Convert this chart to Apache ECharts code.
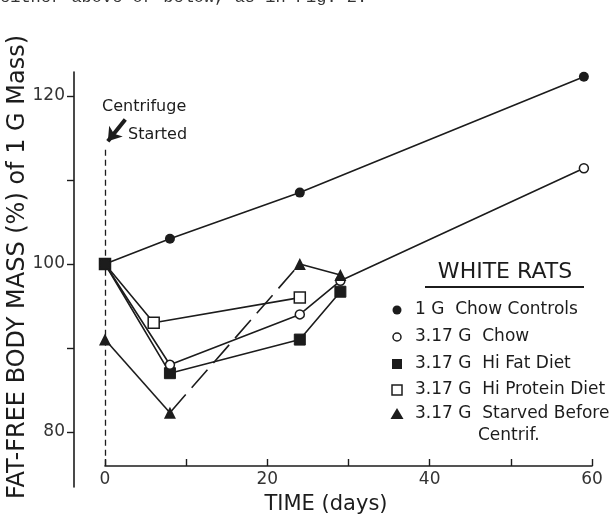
<!DOCTYPE html>
<html><head><meta charset="utf-8">
<script src="https://cdn.jsdelivr.net/npm/echarts@6/dist/echarts.min.js"></script>
<style>html,body{margin:0;padding:0;background:#fff}#c{width:610px;height:519px}</style>
</head><body><div id="c"></div>
<script>
// ---- data ----
const ctrlDays = [0, 8, 24, 59];
const ctrlVals = [100, 103, 108.5, 122.3];
const chowDays = [0, 8, 24, 29, 59];
const chowVals = [100, 88, 94, 98, 111.4];
const fatDays = [0, 8, 24, 29];
const fatVals = [100, 87, 91, 96.7];
const protDays = [0, 6, 24];
const protVals = [100, 93, 96];
const starvDays = [0, 8, 24, 29];
const starvVals = [91, 82.3, 100, 98.7];
const yTickVals = [80, 90, 100, 110, 120];
const yLabelVals = [80, 100, 120];
const xTickVals = [0, 10, 20, 30, 40, 50, 60];
const xLabelVals = [0, 20, 40, 60];
const legendNames = ['1 G  Chow Controls', '3.17 G  Chow', '3.17 G  Hi Fat Diet', '3.17 G  Hi Protein Diet', '3.17 G  Starved Before'];

const INK = '#1c1c1c';
const FONT = 'DejaVu Sans';
const pts = (d, v) => d.map((x, i) => [x, v[i]]);

const chart = echarts.init(document.getElementById('c'));
const lineW = 1.6;
function lineSeries(data, opts) {
  return Object.assign({
    type: 'line', xAxisIndex: 0, yAxisIndex: 0, data: data,
    lineStyle: { color: INK, width: lineW }, animation: false, silent: true
  }, opts);
}
const starv = pts(starvDays, starvVals);
const series = [
  lineSeries(pts(protDays, protVals), { symbol: 'rect', symbolSize: 11, itemStyle: { color: '#fff', borderColor: INK, borderWidth: 1.5 }, z: 3 }),
  lineSeries(pts(fatDays, fatVals), { symbol: 'rect', symbolSize: 11, itemStyle: { color: INK, borderColor: INK }, z: 4 }),
  lineSeries(pts(chowDays, chowVals), { symbol: 'circle', symbolSize: 9, itemStyle: { color: '#fff', borderColor: INK, borderWidth: 1.5 }, z: 5 }),
  lineSeries(starv.slice(0, 2), { symbol: 'none', z: 2 }),
  lineSeries(starv.slice(1, 3), { symbol: 'none', z: 2, lineStyle: { color: INK, width: lineW, type: [24, 9] } }),
  lineSeries(starv.slice(2, 4), { symbol: 'none', z: 2 }),
  { type: 'scatter', data: starv, symbol: 'triangle', symbolSize: 12, itemStyle: { color: INK, opacity: 1 }, z: 6, animation: false, silent: true },
  lineSeries(pts(ctrlDays, ctrlVals), { symbol: 'circle', symbolSize: 10, itemStyle: { color: INK }, z: 7,
    markLine: {
      silent: true, symbol: 'none', label: { show: false },
      lineStyle: { color: INK, type: [6, 4], width: 1.3 },
      data: [[{ coord: [0, 113.6] }, { coord: [0, 75.95] }]]
    }
  }),
  { type: 'line', data: [], z: 8, markLine: {
      silent: true, symbol: ['none', 'arrow'], symbolSize: [13, 13], label: { show: false },
      lineStyle: { color: INK, type: 'solid', width: 4 },
      data: [[{ coord: [2.5, 117.2] }, { coord: [0.35, 114.6] }]]
    } }
];

// legend graphics
const legX = 397, legText = 415, rows = [310, 337, 364, 390, 414];
const g = [];
g.push({ type: 'text', left: 0, top: -11, style: { text: 'either above or below, as in Fig. 2.', font: '17px "Liberation Mono"', fill: '#333' } });
g.push({ type: 'text', x: 18, y: 267, rotation: Math.PI / 2, style: { text: 'FAT-FREE BODY MASS (%) of 1 G Mass)', font: '24px ' + FONT, fill: INK, align: 'center', verticalAlign: 'middle' } });
g.push({ type: 'text', x: 326, y: 505, style: { text: 'TIME (days)', font: '21px ' + FONT, fill: INK, align: 'center', verticalAlign: 'middle' } });
g.push({ type: 'text', x: 102, y: 107, style: { text: 'Centrifuge', font: '16px ' + FONT, fill: INK, verticalAlign: 'middle' } });
g.push({ type: 'text', x: 128, y: 135, style: { text: 'Started', font: '16px ' + FONT, fill: INK, verticalAlign: 'middle' } });
g.push({ type: 'text', x: 505, y: 272, style: { text: 'WHITE RATS', font: '22px ' + FONT, fill: INK, align: 'center', verticalAlign: 'middle' } });
g.push({ type: 'line', shape: { x1: 425, y1: 287, x2: 584, y2: 287 }, style: { stroke: INK, lineWidth: 2 } });
legendNames.forEach((n, i) => {
  g.push({ type: 'text', x: legText, y: rows[i], style: { text: n, font: '17px ' + FONT, fill: INK, verticalAlign: 'middle' } });
});
g.push({ type: 'text', x: 478, y: 436, style: { text: 'Centrif.', font: '17px ' + FONT, fill: INK, verticalAlign: 'middle' } });
g.push({ type: 'circle', shape: { cx: legX, cy: rows[0], r: 4.5 }, style: { fill: INK } });
g.push({ type: 'circle', shape: { cx: legX, cy: rows[1], r: 4 }, style: { fill: '#fff', stroke: INK, lineWidth: 1.5 } });
g.push({ type: 'rect', shape: { x: legX - 5, y: rows[2] - 5, width: 10, height: 10 }, style: { fill: INK } });
g.push({ type: 'rect', shape: { x: legX - 5, y: rows[3] - 5, width: 10, height: 10 }, style: { fill: '#fff', stroke: INK, lineWidth: 1.5 } });
g.push({ type: 'polygon', shape: { points: [[legX, rows[4] - 6], [legX + 6.5, rows[4] + 5], [legX - 6.5, rows[4] + 5]] }, style: { fill: INK } });

chart.setOption({
  backgroundColor: '#fff',
  animation: false,
  grid: [
    { left: 105, right: 18, top: 72, bottom: 53 },
    { left: 74, width: 10, top: 72, bottom: 32 }
  ],
  xAxis: [
    { gridIndex: 0, type: 'value', min: 0, max: 60,
      axisLine: { show: true, onZero: false, lineStyle: { color: INK, width: 1.6 } },
      axisTick: { show: true, inside: true, length: 7, customValues: xTickVals, lineStyle: { color: INK, width: 1.4 } },
      axisLabel: { customValues: xLabelVals, margin: 5, fontSize: 17, fontFamily: FONT, color: '#333' },
      splitLine: { show: false } },
    { gridIndex: 1, type: 'value', show: false }
  ],
  yAxis: [
    { gridIndex: 0, type: 'value', min: 75.95, max: 122.857, show: false, splitLine: { show: false } },
    { gridIndex: 1, type: 'value', min: 73.45, max: 122.857, position: 'left',
      axisLine: { show: true, onZero: false, lineStyle: { color: INK, width: 1.6 } },
      axisTick: { show: true, inside: false, length: 7, customValues: yTickVals, lineStyle: { color: INK, width: 1.4 } },
      axisLabel: { customValues: yLabelVals, margin: 9, fontSize: 17, fontFamily: FONT, color: '#333' },
      splitLine: { show: false } }
  ],
  series: series,
  graphic: g
});
</script></body></html>
